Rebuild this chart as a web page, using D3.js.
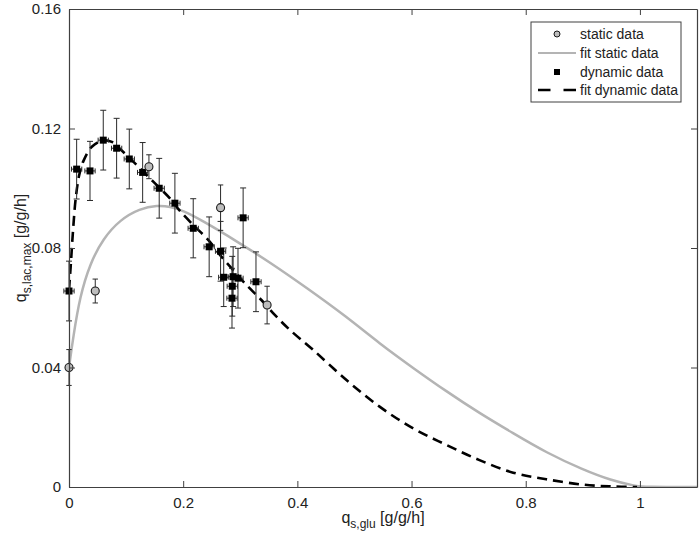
<!DOCTYPE html>
<html><head><meta charset="utf-8">
<script src="https://cdn.jsdelivr.net/npm/d3@7"></script>
<style>
body{margin:0;background:#fff;}
svg{display:block;font-family:"Liberation Sans",Arial,Helvetica,sans-serif;}
</style></head>
<body><svg id="c" width="700" height="548"></svg>
<script>
// ---- data ----
const xTicks = [0, 0.2, 0.4, 0.6, 0.8, 1];
const xTickLabels = ["0", "0.2", "0.4", "0.6", "0.8", "1"];
const yTicks = [0, 0.04, 0.08, 0.12, 0.16];
const yTickLabels = ["0", "0.04", "0.08", "0.12", "0.16"];

const staticX = [0, 0.046, 0.140, 0.2655, 0.347];
const staticY = [0.040, 0.0656, 0.1072, 0.0935, 0.0609];
const staticErr = [0.006, 0.004, 0.004, 0.0076, 0.0063];

const dynX = [0, 0.0134, 0.0368, 0.060, 0.0834, 0.1056, 0.129, 0.158, 0.1855, 0.2176, 0.2455, 0.2655, 0.271, 0.2875, 0.286, 0.2855, 0.296, 0.305, 0.3275];
const dynY = [0.0656, 0.1064, 0.1058, 0.1161, 0.1134, 0.1098, 0.1053, 0.1000, 0.0950, 0.0866, 0.0804, 0.0789, 0.0702, 0.0704, 0.0672, 0.0632, 0.0699, 0.0901, 0.0687];
const dynYErr = [0.010, 0.010, 0.0099, 0.010, 0.010, 0.010, 0.010, 0.010, 0.010, 0.0099, 0.010, 0.010, 0.0098, 0.010, 0.010, 0.010, 0.010, 0.010, 0.010];
const dynXErr = [0.009, 0.009, 0.009, 0.009, 0.009, 0.009, 0.009, 0.009, 0.009, 0.009, 0.009, 0.009, 0.009, 0.009, 0.009, 0.009, 0.009, 0.009, 0.009];

const fitStaticX = [0, 0.0075, 0.019, 0.037, 0.06, 0.089, 0.124, 0.155, 0.177, 0.2, 0.235, 0.2935, 0.3518, 0.416, 0.486, 0.544, 0.603, 0.661, 0.719, 0.778, 0.836, 0.9, 0.95, 0.99, 1.01, 1.1];
const fitStaticY = [0.040, 0.0503, 0.0637, 0.0749, 0.0832, 0.0894, 0.0932, 0.0943, 0.0939, 0.0925, 0.0890, 0.0823, 0.0752, 0.0667, 0.0570, 0.0480, 0.0398, 0.0320, 0.0247, 0.0180, 0.0115, 0.0058, 0.0022, 0.0004, 0, 0];

const fitDynX = [0, 0.003, 0.0075, 0.012, 0.018, 0.025, 0.04, 0.06, 0.075, 0.089, 0.1185, 0.1476, 0.1768, 0.194, 0.2176, 0.2438, 0.267, 0.2876, 0.311, 0.337, 0.3605, 0.3868, 0.4276, 0.486, 0.544, 0.603, 0.661, 0.719, 0.778, 0.836, 0.9, 0.95, 0.995];
const fitDynY = [0.066, 0.074, 0.087, 0.097, 0.1045, 0.109, 0.1139, 0.1160, 0.1155, 0.1132, 0.1078, 0.1022, 0.0966, 0.0925, 0.0877, 0.0827, 0.0771, 0.0726, 0.0676, 0.0626, 0.0576, 0.0526, 0.0459, 0.0358, 0.0269, 0.0196, 0.0141, 0.0090, 0.0048, 0.0026, 0.0008, 0.0002, 0];

const legendLabels = ["static data", "fit static data", "dynamic data", "fit dynamic data"];

// ---- layout ----
const L = 69, R = 697, T = 9, B = 487;
const svg = d3.select("#c");
const x = d3.scaleLinear().domain([0, 1.1]).range([L, R]);
const y = d3.scaleLinear().domain([0, 0.16]).range([B, T]);
const axisColor = "#404040";
const errColor = "#2a2a2a";
const greyLine = "#b4b4b4";

const plot = svg.append("g");
svg.append("clipPath").attr("id","clp").append("rect")
  .attr("x", L).attr("y", T).attr("width", R-L).attr("height", B-T);

// fit curves
const lineS = d3.line().x(d => x(d[0])).y(d => y(d[1])).curve(d3.curveBasis);
const lineD = d3.line().x(d => x(d[0])).y(d => y(d[1])).curve(d3.curveCatmullRom.alpha(0.5));
plot.append("path").datum(fitStaticX.map((v,i)=>[v, fitStaticY[i]]))
  .attr("d", lineS).attr("fill","none").attr("stroke", greyLine).attr("stroke-width", 2.5)
  .attr("clip-path","url(#clp)");
plot.append("path").datum(fitDynX.map((v,i)=>[v, fitDynY[i]]))
  .attr("d", lineD).attr("fill","none").attr("stroke", "#000").attr("stroke-width", 2.6)
  .attr("stroke-dasharray", "10,6").attr("clip-path","url(#clp)");

// error bars helper
function vErr(g, cx, cy, e, cap) {
  g.append("line").attr("x1", x(cx)).attr("x2", x(cx)).attr("y1", y(cy - e)).attr("y2", y(cy + e))
    .attr("stroke", errColor).attr("stroke-width", 1);
  [cy - e, cy + e].forEach(v => g.append("line").attr("x1", x(cx) - cap).attr("x2", x(cx) + cap)
    .attr("y1", y(v)).attr("y2", y(v)).attr("stroke", errColor).attr("stroke-width", 1));
}
function hErr(g, cx, cy, e, cap) {
  g.append("line").attr("x1", x(cx - e)).attr("x2", x(cx + e)).attr("y1", y(cy)).attr("y2", y(cy))
    .attr("stroke", errColor).attr("stroke-width", 1);
  [cx - e, cx + e].forEach(v => g.append("line").attr("x1", x(v)).attr("x2", x(v))
    .attr("y1", y(cy) - cap).attr("y2", y(cy) + cap).attr("stroke", errColor).attr("stroke-width", 1));
}

const eg = plot.append("g");
dynX.forEach((v,i) => { vErr(eg, v, dynY[i], dynYErr[i], 3); hErr(eg, v, dynY[i], dynXErr[i], 2.5); });
staticX.forEach((v,i) => vErr(eg, v, staticY[i], staticErr[i], 2.7));

// markers
plot.append("g").selectAll("rect").data(dynX.map((v,i)=>[v, dynY[i]])).join("rect")
  .attr("x", d => x(d[0]) - 3.5).attr("y", d => y(d[1]) - 3.5)
  .attr("width", 7).attr("height", 7).attr("fill", "#000");
plot.append("g").selectAll("circle").data(staticX.map((v,i)=>[v, staticY[i]])).join("circle")
  .attr("cx", d => x(d[0])).attr("cy", d => y(d[1])).attr("r", 4)
  .attr("fill", "#bdbdbd").attr("stroke", "#1a1a1a").attr("stroke-width", 1.1);

// axes (box with inward ticks)
const fmtX = (d,i) => xTickLabels[i];
const fmtY = (d,i) => yTickLabels[i];
const ax = svg.append("g").attr("transform", `translate(0,${B})`)
  .call(d3.axisBottom(x).tickValues(xTicks).tickFormat(fmtX).tickSizeInner(-6).tickSizeOuter(0).tickPadding(10));
const axT = svg.append("g").attr("transform", `translate(0,${T})`)
  .call(d3.axisTop(x).tickValues(xTicks).tickFormat("").tickSizeInner(-6).tickSizeOuter(0));
const ay = svg.append("g").attr("transform", `translate(${L},0)`)
  .call(d3.axisLeft(y).tickValues(yTicks).tickFormat(fmtY).tickSizeInner(-6).tickSizeOuter(0).tickPadding(8));
const ayR = svg.append("g").attr("transform", `translate(${R},0)`)
  .call(d3.axisRight(y).tickValues(yTicks).tickFormat("").tickSizeInner(-6).tickSizeOuter(0));
[ax, axT, ay, ayR].forEach(g => {
  g.select(".domain").attr("stroke", axisColor).attr("stroke-width", 1.2);
  g.selectAll(".tick line").attr("stroke", axisColor).attr("stroke-width", 1);
  g.selectAll(".tick text").attr("fill", "#222").attr("font-size", 15)
    .attr("font-family", '"Liberation Sans",Arial,sans-serif');
});

// axis labels
const xl = svg.append("text").attr("x", (L+R)/2).attr("y", 523).attr("text-anchor", "middle")
  .attr("font-size", 16).attr("fill", "#222");
xl.append("tspan").text("q");
xl.append("tspan").attr("dy", 5).attr("font-size", 12).text("s,glu");
xl.append("tspan").attr("dy", -5).text(" [g/g/h]");

const yl = svg.append("text").attr("transform", `translate(26,${(T+B)/2}) rotate(-90)`)
  .attr("text-anchor", "middle").attr("font-size", 16).attr("fill", "#222");
yl.append("tspan").text("q");
yl.append("tspan").attr("dy", 5).attr("font-size", 12).text("s,lac,max");
yl.append("tspan").attr("dy", -5).text(" [g/g/h]");

// legend
const lg = svg.append("g");
lg.append("rect").attr("x", 531).attr("y", 22).attr("width", 150).attr("height", 80)
  .attr("fill", "#fff").attr("stroke", axisColor).attr("stroke-width", 1);
const ly = [34, 53, 72, 90];
lg.append("circle").attr("cx", 557).attr("cy", ly[0]).attr("r", 3)
  .attr("fill", "#bdbdbd").attr("stroke", "#1a1a1a").attr("stroke-width", 1);
lg.append("line").attr("x1", 538).attr("x2", 576).attr("y1", ly[1]).attr("y2", ly[1])
  .attr("stroke", greyLine).attr("stroke-width", 2);
lg.append("rect").attr("x", 554).attr("y", ly[2]-3).attr("width", 6).attr("height", 6).attr("fill", "#000");
lg.append("line").attr("x1", 538).attr("x2", 576).attr("y1", ly[3]).attr("y2", ly[3])
  .attr("stroke", "#000").attr("stroke-width", 2.4).attr("stroke-dasharray", "12.5,13");
legendLabels.forEach((t,i) => lg.append("text").attr("x", 580).attr("y", ly[i] + 5)
  .attr("font-size", 14).attr("fill", "#222").text(t));
</script></body></html>
